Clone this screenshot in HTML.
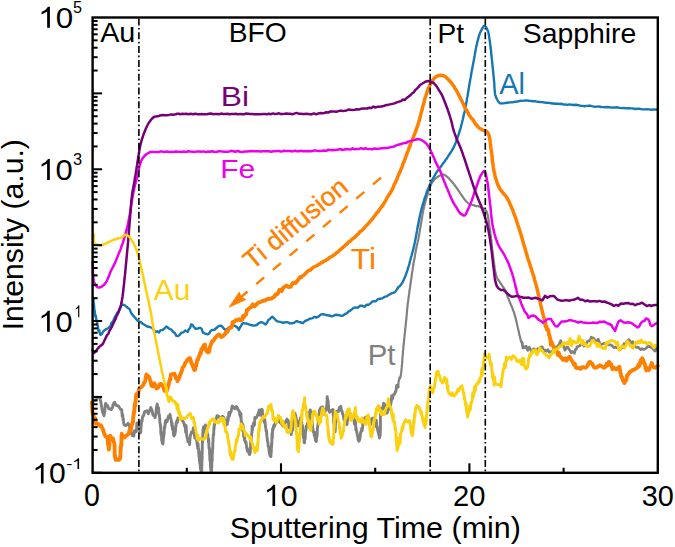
<!DOCTYPE html>
<html><head><meta charset="utf-8"><style>
html,body{margin:0;padding:0;background:#fff;}
body{width:675px;height:547px;overflow:hidden;position:relative;}
svg{position:absolute;left:0;top:0;}
</style></head><body>
<svg width="675" height="547" viewBox="0 0 675 547" font-family='"Liberation Sans", sans-serif'>
<polyline points="92.3,402.6 93.6,400.8 95.0,400.0 96.1,399.9 97.3,397.3 98.4,397.4 99.2,397.4 99.8,397.4 100.4,400.5 101.0,402.6 101.4,406.2 101.7,406.7 102.1,409.9 102.4,410.3 102.7,412.5 103.0,413.6 103.3,411.0 103.6,414.7 104.0,415.8 104.4,413.5 104.8,411.5 105.2,405.0 105.7,403.3 106.2,406.0 107.4,405.3 108.8,408.7 111.4,409.5 112.1,407.6 112.6,407.5 113.0,404.8 113.5,404.3 114.0,402.6 114.8,402.4 115.8,405.2 118.4,406.0 119.4,407.5 120.2,408.9 121.0,409.5 121.7,409.7 122.2,416.2 122.7,414.7 122.9,417.3 123.1,420.3 123.3,418.6 123.4,420.2 123.6,422.6 124.0,424.3 124.5,425.2 126.2,425.6 128.0,423.4 128.6,424.6 129.0,424.5 129.4,425.2 129.7,427.9 130.0,433.1 130.5,432.0 131.3,432.0 132.2,435.5 133.1,435.6 133.8,435.9 134.5,430.7 135.2,432.1 135.8,430.4 136.4,431.5 136.9,423.0 137.5,424.6 138.0,423.7 138.4,423.4 138.8,422.4 139.1,426.7 139.3,427.6 139.6,426.9 139.8,433.0 140.1,432.0 140.3,432.9 140.6,432.4 140.8,431.8 141.0,427.7 141.3,425.3 141.5,420.6 141.8,421.7 142.1,421.2 142.5,417.2 142.9,416.1 143.6,415.6 144.5,411.8 145.7,411.1 147.0,410.8 148.3,413.7 149.5,410.8 150.8,407.6 152.0,410.4 153.1,415.4 154.2,415.6 155.0,417.6 155.8,414.1 156.5,407.0 157.2,404.0 157.8,408.4 158.1,409.3 158.3,407.7 158.6,407.8 158.8,413.1 159.1,414.8 159.3,414.5 159.5,416.4 159.7,418.7 159.9,423.0 160.1,423.1 160.3,425.1 160.5,427.3 160.7,425.2 160.8,433.0 161.0,434.3 161.2,435.4 161.4,432.1 161.6,436.3 161.7,440.6 161.9,436.4 162.1,440.5 162.3,443.5 162.5,441.6 162.7,438.8 162.9,444.0 163.2,440.9 163.3,438.2 163.5,437.6 163.7,436.6 163.9,433.7 164.1,433.8 164.3,428.2 164.5,426.8 164.8,427.8 165.1,424.1 165.4,420.8 165.7,423.2 166.1,420.3 167.2,421.4 168.4,416.2 169.6,416.7 170.1,414.3 170.5,417.7 170.9,419.0 171.3,420.4 171.7,425.6 172.1,422.7 172.4,429.3 172.8,426.2 173.1,429.0 173.4,433.4 173.8,435.7 174.1,435.9 174.4,434.5 174.7,434.9 175.0,433.6 175.2,432.3 175.4,431.5 175.6,428.1 175.8,427.0 176.0,425.6 176.3,422.5 176.6,422.3 177.0,420.5 177.4,422.4 177.9,417.9 178.9,418.6 180.2,417.8 181.5,419.0 182.7,421.2 183.8,422.7 184.4,425.7 184.9,424.5 185.3,427.7 185.7,432.4 186.1,425.5 186.4,430.4 186.7,435.1 187.0,437.2 187.3,438.6 187.6,438.6 187.9,441.9 188.2,441.9 188.6,441.6 189.1,440.1 189.6,444.6 190.0,438.6 190.5,434.8 191.0,433.8 191.5,432.2 192.1,432.1 192.7,432.3 193.4,427.8 194.2,433.5 194.9,438.1 195.6,435.6 196.3,439.6 196.9,441.6 197.2,444.6 197.5,445.8 197.8,448.5 198.1,443.8 198.3,448.2 198.6,450.1 198.8,453.9 199.0,456.7 199.2,451.1 199.4,460.6 199.6,457.3 199.8,463.4 200.0,460.7 200.2,465.5 200.4,468.9 200.5,467.4 200.7,469.1 200.9,471.0 201.0,470.1 201.2,470.0 201.3,469.7 201.4,472.5 201.6,470.9 201.6,467.3 201.7,472.3 201.8,463.3 201.9,466.0 201.9,462.0 202.0,461.1 202.0,460.4 202.1,457.6 202.1,456.4 202.2,450.0 202.2,447.9 202.3,450.1 202.3,444.8 202.4,442.6 202.5,439.6 202.5,443.1 202.6,440.1 202.7,439.7 202.8,433.2 202.9,433.5 203.0,429.7 203.1,432.2 203.3,432.8 203.4,426.9 203.6,431.1 203.8,429.6 204.0,427.4 204.6,427.4 205.4,424.9 206.2,433.3 206.9,432.2 207.6,434.5 207.8,434.3 208.1,437.4 208.3,438.7 208.5,442.4 208.7,438.9 208.9,444.9 209.0,447.4 209.2,449.2 209.3,447.8 209.5,448.6 209.6,454.1 209.7,454.2 209.8,456.2 209.9,460.6 210.0,459.1 210.2,456.7 210.3,462.2 210.4,460.7 210.5,467.4 210.6,467.6 210.7,466.8 210.8,468.8 210.9,471.2 211.0,470.0 211.1,470.0 211.2,472.5 211.3,469.4 211.4,471.0 211.5,471.1 211.6,470.4 211.7,464.7 211.8,466.5 211.9,459.6 212.0,459.6 212.1,456.2 212.2,460.5 212.2,454.1 212.3,454.7 212.4,452.5 212.5,450.9 212.6,447.9 212.7,447.6 212.8,448.9 212.8,443.5 212.9,442.8 213.0,442.0 213.1,438.1 213.3,434.5 213.4,434.6 213.5,434.5 213.7,434.9 213.8,427.8 213.9,428.2 214.0,429.9 214.1,427.9 214.3,424.9 214.5,425.2 214.9,422.7 215.3,418.9 215.8,420.3 217.1,415.7 218.7,416.3 220.3,418.6 221.8,416.7 222.7,416.4 223.6,417.3 224.4,419.6 225.1,420.0 225.8,424.2 226.5,425.0 227.0,422.2 227.4,424.2 227.8,417.3 228.1,420.8 228.5,416.9 228.9,412.4 229.4,416.0 230.1,413.2 231.1,411.3 232.3,405.9 233.6,407.3 234.9,408.6 236.2,406.4 237.2,407.3 237.8,409.3 238.4,410.0 238.9,410.9 239.4,411.5 239.8,415.1 240.2,415.4 240.5,416.8 240.9,413.5 241.2,421.2 241.5,423.8 241.9,422.7 242.2,423.5 242.5,424.6 242.8,430.9 243.1,425.0 243.4,431.0 243.6,436.4 243.9,431.2 244.1,435.9 244.4,439.8 244.6,437.3 244.9,440.0 245.2,442.1 245.5,441.6 245.9,441.6 246.4,445.2 246.8,447.9 247.3,450.9 247.7,450.9 248.2,451.9 248.6,451.2 249.0,453.5 249.2,452.6 249.5,454.6 249.7,452.2 249.9,449.2 250.1,447.9 250.2,453.5 250.4,448.8 250.6,446.0 250.8,437.7 250.9,442.2 251.1,439.9 251.3,440.4 251.5,436.0 251.7,433.2 251.9,432.6 252.1,426.1 252.3,430.7 252.6,427.4 253.0,426.4 253.5,422.9 253.9,425.5 254.4,425.2 254.9,417.5 255.5,417.8 256.1,417.9 256.8,417.0 257.6,415.2 258.5,412.5 259.3,410.0 260.2,415.3 260.9,410.8 261.4,413.1 261.8,409.3 262.3,409.9 262.7,417.2 263.1,417.2 263.5,420.5 263.8,420.2 264.2,418.6 264.5,422.7 264.9,419.7 265.2,424.3 265.6,427.4 265.9,428.6 266.1,431.2 266.4,430.3 266.7,433.2 266.9,436.2 267.2,437.9 267.4,440.3 267.7,441.4 267.9,442.2 268.2,446.3 268.4,446.6 268.6,446.5 268.9,448.5 269.1,451.2 269.3,452.3 269.6,454.0 269.8,454.6 270.0,455.6 270.2,455.4 270.4,455.8 270.6,453.1 270.7,456.1 270.9,456.6 271.0,454.5 271.2,452.1 271.3,452.1 271.4,447.8 271.5,444.4 271.6,446.6 271.7,442.8 271.8,444.3 271.9,438.8 272.0,433.8 272.1,435.0 272.3,438.4 272.5,432.7 272.6,428.9 272.8,428.5 273.1,429.6 273.3,428.2 273.6,426.3 273.9,425.0 274.6,426.3 275.4,423.0 276.2,420.1 277.1,420.1 277.9,421.5 278.7,417.9 279.4,420.6 280.1,422.4 280.8,420.3 281.4,423.9 282.2,425.0 283.1,425.9 284.1,422.3 285.1,423.3 286.1,420.8 287.0,419.1 287.7,421.5 288.3,420.5 288.9,427.7 289.5,427.1 290.1,426.1 290.7,428.4 291.2,434.6 291.7,429.8 292.1,428.8 292.4,430.3 292.7,429.1 293.0,425.5 293.2,421.2 293.5,421.9 293.7,420.2 294.0,419.8 294.2,417.4 294.5,414.6 294.7,415.3 295.0,413.3 295.3,414.8 295.6,415.3 295.9,416.6 296.3,417.9 296.6,421.9 296.9,420.3 297.3,422.9 297.7,425.3 298.1,425.8 298.8,422.2 299.7,422.6 300.5,417.8 301.2,421.1 301.5,420.1 301.8,423.5 302.1,424.8 302.4,425.2 302.6,426.7 302.8,426.4 303.0,435.0 303.2,434.5 303.4,437.7 303.5,435.6 303.7,438.6 303.9,436.6 304.1,442.6 304.3,441.3 304.5,442.9 304.8,436.5 305.0,439.1 305.2,439.0 305.4,432.6 305.7,430.6 305.9,430.3 306.1,429.3 306.4,426.0 306.7,427.3 307.0,425.9 307.3,424.6 307.7,423.5 308.1,421.8 308.5,421.5 308.9,419.1 309.2,412.5 309.6,412.8 310.0,410.6 310.3,409.9 310.6,411.8 310.8,411.9 311.1,412.7 311.3,414.7 311.4,411.9 311.6,414.2 311.8,418.4 311.9,419.9 312.1,421.5 312.3,423.9 312.5,424.3 312.7,428.9 312.9,428.9 313.2,431.2 313.5,432.1 313.9,432.8 314.3,435.6 314.6,432.2 315.0,437.1 315.4,440.3 315.7,438.0 316.0,441.3 316.2,441.5 316.4,440.8 316.6,436.8 316.7,437.8 316.9,436.3 317.0,436.2 317.2,434.7 317.3,431.5 317.4,428.0 317.6,427.5 317.7,425.8 317.9,425.6 318.1,423.1 318.3,421.1 318.5,418.0 318.8,415.0 319.0,415.2 319.3,412.7 319.5,410.2 319.8,410.6 320.1,408.5 320.5,408.5 320.9,408.6 321.4,407.1 322.7,407.0 324.1,414.1 325.3,410.2 325.9,408.8 326.3,410.0 326.6,405.9 326.9,405.7 327.2,396.6 327.4,398.4 327.7,399.3 327.9,400.2 328.2,402.0 328.4,407.1 328.5,405.0 328.7,408.9 329.0,409.8 329.3,411.9 329.6,412.2 330.0,411.8 331.1,410.7 332.3,410.2 332.6,411.7 332.9,409.4 333.2,415.3 333.4,412.5 333.6,416.9 333.7,422.7 333.8,420.1 334.0,422.7 334.1,427.0 334.2,426.6 334.3,426.5 334.4,429.8 334.5,431.3 334.7,430.4 334.9,431.6 335.0,427.9 335.1,431.9 335.3,430.3 335.4,425.4 335.5,424.1 335.6,420.8 335.8,422.5 336.0,416.4 336.2,417.3 336.4,413.4 336.7,411.5 337.0,411.8 337.7,411.6 338.5,411.3 339.3,407.5 340.1,407.1 340.8,406.4 341.4,410.8 342.0,411.0 342.6,413.8 343.2,414.9 344.0,419.8 344.7,421.1 345.5,419.4 346.3,421.1 347.0,424.7 347.7,418.1 348.5,417.6 349.4,414.9 350.7,413.9 352.1,416.3 353.3,418.0 353.8,415.5 354.3,423.7 354.6,424.2 355.0,420.5 355.3,421.4 355.6,422.7 355.8,429.9 356.1,428.1 356.4,430.4 356.8,432.1 357.1,433.6 357.5,436.0 357.8,436.0 358.1,439.8 358.5,438.0 358.8,441.3 359.2,440.7 359.5,440.2 359.9,438.8 360.3,435.4 360.7,432.0 361.1,432.0 361.4,431.0 361.8,428.2 362.1,430.9 362.5,427.8 362.8,424.6 363.2,422.5 363.7,420.8 364.2,421.1 365.1,417.6 366.1,417.3 367.1,417.4 368.1,416.4 368.9,418.2 369.7,419.9 370.5,424.6 371.2,421.1 372.4,418.1 373.5,418.0 374.3,418.8 375.1,426.2 375.9,422.7 376.3,420.2 376.7,424.4 377.2,427.6 377.6,429.4 378.0,431.8 378.4,432.3 378.8,435.1 379.2,435.7 379.5,438.0 379.8,436.7 380.0,432.7 380.1,434.3 380.2,435.3 380.3,432.2 380.3,430.9 380.3,432.8 380.4,428.7 380.4,429.6 380.4,428.0 380.4,425.2 380.4,423.7 380.4,420.6 380.4,416.1 380.4,417.0 380.5,416.2 380.6,412.6 380.7,411.9 380.9,412.3 381.1,407.9 381.3,408.7 382.0,408.2 382.8,409.1 383.6,403.2 384.4,404.0 385.0,404.9 385.5,405.8 386.0,411.1 386.5,410.6 387.0,413.2 387.5,412.0 388.0,410.0 388.5,409.9 388.9,407.9 389.4,402.3 389.9,404.0 390.5,405.3 391.1,402.6 391.7,395.7 392.3,399.2 393.0,396.2 393.8,394.3 394.6,393.9 395.4,392.2 396.1,390.0 396.7,385.4 397.2,386.5 397.7,385.2 398.1,387.0" fill="none" stroke="#808080" stroke-width="2.9" stroke-linejoin="round" stroke-linecap="round"/>
<polyline points="397.7,385.2 398.1,387.0 398.6,381.6 399.1,379.4 399.6,377.3 400.1,378.3 400.5,376.7 400.7,375.7 400.9,374.8 401.1,373.4 401.2,372.1 401.4,371.1 401.5,369.3 401.7,367.9 401.8,366.6 401.9,365.2 402.1,363.4 402.2,361.8 402.3,360.5 402.4,358.9 402.5,357.2 402.7,355.8 402.8,354.2 402.9,352.8 403.0,351.2 403.2,349.7 403.3,348.3 403.4,346.8 403.6,345.6 403.7,344.2 403.9,342.5 404.0,341.2 404.2,339.5 404.3,338.1 404.5,336.7 404.6,335.4 404.8,333.6 405.0,332.2 405.1,330.8 405.2,329.1 405.4,327.9 405.5,326.5 405.7,325.2 405.8,323.7 405.9,322.2 406.1,321.3 406.2,320.0 406.4,318.4 406.5,316.6 406.7,315.3 406.8,313.6 406.9,312.1 407.0,310.8 407.2,309.0 407.3,307.7 407.5,306.3 407.6,305.0 407.8,303.3 408.0,301.8 408.2,300.5 408.4,298.9 408.6,297.5 408.8,296.3 409.0,294.4 409.2,293.4 409.4,291.4 409.6,290.0 409.8,288.6 410.1,287.2 410.3,285.4 410.5,284.1 410.7,282.3 410.9,281.3 411.1,279.8 411.3,278.4 411.5,277.2 411.7,275.4 411.9,273.9 412.1,272.6 412.4,271.0 412.6,269.7 412.8,267.8 413.1,266.5 413.3,265.0 413.5,263.0 413.8,262.1 414.1,260.3 414.4,258.9 414.7,257.4 415.0,255.3 415.3,253.6 415.6,251.9 415.9,250.3 416.2,248.8 416.5,247.6 416.7,246.1 417.0,245.0 417.2,243.9 417.4,243.0 417.8,241.6 418.2,239.9 418.4,239.0 418.6,237.8 418.8,236.6 419.1,235.1 419.3,233.4 419.6,232.2 419.9,230.4 420.1,228.6 420.4,227.2 420.7,225.5 420.9,223.6 421.2,222.4 421.5,221.1 421.7,219.5 422.0,218.1 422.2,216.5 422.5,214.9 422.7,213.3 423.0,212.2 423.3,210.6 423.6,209.1 423.9,207.8 424.2,206.3 424.6,204.9 424.9,203.5 425.3,201.9 425.7,200.5 426.1,198.8 426.5,197.6 426.9,196.4 427.3,195.1 427.8,193.5 428.2,192.3 428.7,190.7 429.2,189.4 429.7,187.6 430.3,186.2 430.9,185.0 431.5,183.4 432.2,182.2 433.1,181.2 434.1,179.8 435.1,178.9 436.2,178.0 437.3,177.2 438.5,176.3 439.8,175.6 441.1,175.1 442.3,174.5 443.7,174.6 445.0,175.2 446.3,176.2 447.3,177.0 448.3,177.7 449.3,178.9 450.3,180.0 451.3,181.0 452.3,182.2 453.2,183.4 454.1,184.2 454.9,185.7 455.8,186.5 456.6,187.9 457.5,189.1 458.3,190.3 459.2,191.5 460.1,193.0 460.9,194.2 461.8,195.4 462.6,196.7 463.5,197.8 464.6,199.5 465.7,200.7 466.8,202.0 468.0,203.0 469.3,204.0 470.7,204.3 472.2,204.8 473.5,205.0 475.0,205.9 476.5,206.2 478.1,206.0 479.6,206.7 480.9,207.2 482.4,207.9 483.8,208.7 485.0,209.5 486.1,210.7 486.6,211.6 487.1,212.5 487.4,213.8 487.8,215.3 488.0,216.3 488.3,217.8 488.5,219.4 488.7,220.7 488.9,222.6 489.1,224.1 489.4,225.9 489.6,227.4 489.8,228.5 490.0,229.8 490.2,231.2 490.3,232.6 490.5,233.8 490.7,235.3 490.9,236.9 491.0,238.4 491.2,239.9 491.3,241.0 491.5,242.5 491.7,243.7 491.8,245.8 492.0,246.8 492.1,248.4 492.3,249.9 492.5,251.0 492.6,252.6 492.8,253.9 493.0,255.2 493.2,256.4 493.4,258.3 493.6,260.0 493.8,261.0 494.0,263.0 494.2,264.4 494.4,266.0 494.6,267.4 494.8,269.0 495.1,270.2 495.3,271.7 495.6,272.7 495.9,274.1 496.2,275.0 496.5,276.1 497.1,277.6 497.8,279.2 498.5,280.1 499.2,281.2 500.0,282.4 500.7,283.4 501.5,284.5 502.3,285.8 503.2,287.1 503.9,288.2 504.7,289.5 505.3,290.7 505.8,291.9 506.4,293.4 506.9,294.4 507.4,295.8 507.9,297.4 508.5,298.6 509.0,299.9 509.5,301.3 510.0,302.5 510.6,303.9 511.1,305.3 511.7,306.6 512.2,307.6 512.7,309.2 513.2,310.5 513.7,311.7 514.2,313.2 514.6,314.7 515.0,315.9 515.4,317.3 515.8,318.9 516.1,320.4 516.4,321.5 516.8,323.2 517.1,324.4 517.5,326.3 517.8,327.4 518.1,328.8 518.5,330.5 518.8,331.8 519.1,333.5 519.4,335.2 519.8,336.0 520.1,337.2 520.5,339.9 520.9,340.3 521.3,341.6 522.1,342.5" fill="none" stroke="#808080" stroke-width="2.2" stroke-linejoin="round" stroke-linecap="round"/>
<polyline points="521.3,341.6 522.1,342.5 522.9,348.0 523.8,346.5 524.9,347.6 526.2,346.2 527.7,350.4 529.2,347.2 530.8,349.9 532.2,351.5 533.6,348.8 535.0,349.4 536.5,350.6 537.9,348.7 539.3,349.0 540.7,347.1 542.2,346.9 543.6,351.3 545.0,349.9 546.4,351.3 547.9,349.6 549.3,352.3 550.7,352.0 552.1,351.1 553.2,351.4 554.2,346.2 555.2,347.7 556.2,348.0 557.2,346.5 558.2,345.7 559.3,344.0 560.7,340.7 562.1,345.0 563.5,346.3 565.0,350.2 566.4,347.6 567.6,347.1 568.9,349.1 570.1,350.6 571.3,352.8 572.4,351.5 573.5,352.3 574.5,353.3 575.4,349.4 576.2,349.4 577.1,346.8 578.2,346.4 579.5,346.0 580.9,344.4 582.4,342.8 583.9,346.1 585.3,344.0 586.5,343.5 587.7,341.1 588.9,340.9 590.0,340.8 591.2,337.1 592.4,338.1 593.6,338.2 594.7,339.8 595.9,340.8 597.1,340.6 598.3,339.2 599.5,342.8 600.9,344.9 602.4,343.9 603.8,343.5 605.3,343.3 606.7,344.0 608.1,345.0 609.6,344.8 611.0,344.8 612.4,346.0 613.8,347.6 615.2,347.2 616.7,347.7 618.1,347.3 619.6,349.9 620.9,348.7 622.0,346.1 623.0,347.6 624.0,343.7 625.0,343.9 626.0,343.9 627.0,341.2 628.0,340.4 629.1,339.7 630.3,341.6 631.5,343.0 632.6,341.8 633.9,344.6 635.1,346.4 636.5,347.3 637.9,347.1 639.3,348.4 640.8,349.6 642.2,348.7 643.6,349.5 645.1,349.0 646.5,347.9 648.0,346.1 649.3,346.4 650.6,347.0 651.9,347.8 653.1,349.1 654.2,350.4 655.2,351.1 656.6,347.9 657.8,349.0" fill="none" stroke="#808080" stroke-width="2.7" stroke-linejoin="round" stroke-linecap="round"/>
<polyline points="93.3,297.9 93.5,299.8 93.7,302.2 93.9,303.7 94.1,306.5 94.3,309.0 94.6,310.6 94.9,312.7 95.3,316.6 95.8,315.6 96.3,319.6 96.8,320.7 97.4,324.2 98.0,327.4 98.6,331.3 99.3,330.3 100.0,334.1 100.7,334.9 101.8,334.0 103.1,331.6 104.7,330.1 106.4,329.1 108.5,328.0 110.5,325.8 111.6,322.5 112.6,322.5 113.6,319.9 114.6,317.6 115.9,315.3 117.3,312.8 118.7,311.0 120.0,308.9 121.3,305.5 122.8,304.5 124.8,305.4 126.9,307.0 128.3,308.3 129.7,309.2 131.0,312.7 132.3,314.4 133.6,316.2 135.0,317.6 136.9,320.1 138.9,321.3 140.7,322.0 142.7,323.8 144.8,325.0 147.2,326.5 149.7,327.0 152.2,328.0 153.9,330.1 155.6,332.1 157.2,331.3 158.9,332.4 160.7,330.1 162.6,330.0 164.5,328.5 166.3,326.5 168.0,327.7 169.7,329.0 171.4,329.7 173.0,331.7 174.8,333.0 176.4,335.9 178.1,336.1 179.8,334.8 181.5,332.6 183.3,332.4 185.4,330.5 187.6,331.8 189.3,328.7 190.3,327.5 191.1,324.4 192.4,324.9 193.9,327.0 195.6,328.9 197.8,328.5 200.0,327.8 201.5,328.7 202.9,332.4 204.4,333.3 207.8,334.4 209.2,333.3 210.7,330.8 212.2,330.0 214.4,329.7 216.7,327.8 218.9,325.9 221.1,325.6 222.6,327.0 224.1,328.9 225.6,330.0 227.8,328.4 230.0,326.7 232.2,326.0 234.4,325.6 236.0,326.5 237.5,327.7 238.9,330.0 240.0,327.4 241.0,326.0 242.0,324.1 243.3,323.3 246.0,323.4 248.9,324.4 251.6,325.3 254.4,325.6 256.7,325.0 258.9,323.1 261.1,322.2 263.4,322.9 265.6,324.4 266.9,322.9 268.3,320.0 269.6,319.2 270.9,317.8 272.2,316.7 273.7,318.0 275.2,319.5 276.7,321.1 278.8,321.7 281.1,322.2 283.3,322.9 285.6,322.2 287.8,322.2 290.1,323.4 292.2,323.3 294.5,322.6 296.7,321.1 298.7,321.9 301.0,322.5 302.9,323.1 305.0,321.0 307.3,320.2 309.6,318.8 311.9,318.4 314.1,316.9 316.3,317.5 318.5,316.7 320.7,314.7 322.9,314.2 325.1,314.6 327.2,315.3 329.4,315.5 331.6,316.3 333.8,315.6 336.0,314.7 338.2,315.0 340.5,315.6 342.6,315.8 344.8,314.2 346.7,313.4 348.5,311.6 350.3,310.6 352.1,309.1 353.9,307.8 355.8,307.4 357.9,307.7 360.1,305.7 362.3,305.8 364.5,306.9 366.7,304.7 368.6,304.8 370.4,303.3 372.2,301.6 374.0,301.3 375.9,301.2 377.7,299.2 379.9,298.8 382.1,298.4 384.4,296.9 386.5,296.4 388.6,295.1 390.8,293.7 393.0,292.9 395.0,292.1 396.8,289.6 398.4,287.0 399.8,286.3 401.1,284.6 402.3,282.7 403.3,280.9 404.1,279.1 404.9,277.3 405.6,275.5 406.4,273.2 407.0,271.5 407.6,269.6 408.2,267.4 408.8,265.8 409.4,263.6 409.9,261.5 410.5,259.5 411.0,257.4 411.6,255.5 412.1,253.4 412.7,251.4 413.2,249.4 413.7,247.2 414.2,245.2 414.7,243.0 415.1,240.9 415.5,239.0 415.9,236.7 416.3,234.5 416.7,232.5 417.1,230.4 417.4,228.3 417.8,226.3 418.2,224.4 418.6,222.3 419.0,220.1 419.4,218.2 419.8,216.4 420.3,214.4 420.7,212.3 421.2,210.4 421.7,208.4 422.3,206.4 422.8,204.4 423.4,202.6 424.0,200.5 424.6,198.4 425.2,196.8 426.0,194.6 426.7,192.3 427.5,190.3 428.4,188.1 429.2,186.2 430.1,184.1 431.1,182.3 432.1,180.1 433.2,178.2 434.4,176.0 435.6,173.9 436.9,171.8 438.3,170.0 439.5,168.2 440.7,166.8 441.9,165.2 443.1,163.4 444.3,162.0 445.5,160.1 446.8,158.5 448.0,156.5 449.2,154.7 450.3,153.0 451.4,151.3 452.4,149.6 453.4,148.0 454.3,146.0 455.1,144.2 455.9,142.1 456.6,140.0 457.3,138.0 458.0,136.2 458.7,134.2 459.3,132.1 460.0,130.0 460.6,128.1 461.1,126.1 461.7,124.0 462.2,121.7 462.8,119.5 463.2,117.5 463.7,115.6 464.1,113.5 464.6,111.7 465.0,109.5 465.4,107.2 465.9,105.2 466.3,102.9 466.7,101.0 467.0,98.6 467.4,96.8 467.8,94.6 468.1,92.5 468.5,90.0 468.8,88.0 469.2,85.8 469.5,83.6 469.9,81.5 470.3,79.4 470.7,77.3 471.1,74.9 471.4,72.9 471.8,70.7 472.2,68.7 472.6,66.6 473.0,64.6 473.4,62.5 473.8,60.4 474.2,58.2 474.6,55.9 474.9,53.8 475.3,51.7 475.7,49.6 476.1,47.4 476.6,45.4 477.0,43.5 477.5,41.4 478.1,39.1 478.6,37.1 479.2,35.2 479.9,33.3 480.6,31.6 481.9,29.1 483.3,26.6 484.6,25.7 486.3,27.4 487.7,30.4 488.3,32.2 488.7,34.0 489.1,36.4 489.4,38.6 489.8,41.2 490.1,43.5 490.4,45.4 490.6,47.5 490.9,49.6 491.1,51.7 491.3,53.9 491.5,56.0 491.8,58.3 492.0,60.4 492.2,62.5 492.4,64.6 492.6,66.5 492.9,69.0 493.1,71.1 493.3,73.1 493.5,75.4 493.7,77.5 493.9,79.6 494.1,81.5 494.3,83.6 494.4,86.1 494.5,88.1 494.7,90.5 494.9,92.2 495.1,94.2 495.5,95.8 496.4,98.1 497.4,100.0 498.4,101.7 500.0,103.3 503.1,103.4 506.7,102.7 510.3,102.4 512.4,102.3 514.8,101.8 517.4,101.5 520.0,100.8 522.1,100.9 524.3,100.6 526.5,100.4 528.8,100.8 531.1,101.0 533.3,101.3 535.5,101.3 537.8,101.8 540.0,102.0 542.2,102.1 544.5,102.5 546.7,102.7 548.9,102.9 551.0,103.2 553.1,103.5 555.2,103.8 557.5,103.6 560.0,104.0 561.8,103.8 563.6,104.6 565.5,104.5 567.5,104.9 569.6,104.3 571.7,104.8 573.9,105.0 576.0,104.8 578.2,105.2 580.4,105.7 582.5,105.9 584.6,106.2 586.7,105.9 588.7,105.8 590.8,105.8 592.8,106.4 594.9,106.7 596.9,106.6 599.0,106.4 601.0,107.0 603.1,107.1 605.1,107.2 607.2,107.0 609.2,107.3 611.3,107.6 613.3,107.5 615.4,107.5 617.5,107.3 619.6,107.9 621.7,108.1 623.8,108.0 625.9,108.4 628.0,108.1 630.1,108.3 632.2,108.4 634.2,108.7 636.2,109.0 638.1,108.6 640.0,108.8 642.4,109.4 644.7,109.4 646.9,109.3 649.1,109.4 651.3,109.8 653.4,109.4 655.6,109.5 657.8,109.6" fill="none" stroke="#1677b3" stroke-width="2.4" stroke-linejoin="round" stroke-linecap="round"/>
<polyline points="91.8,402.6 92.0,404.3 92.1,404.4 92.3,408.7 92.4,411.8 92.6,412.3 92.9,413.8 93.2,414.7 93.7,416.3 94.4,418.9 95.1,418.1 95.8,423.7 96.7,423.4 98.4,424.1 100.2,426.0 101.1,425.5 102.0,427.6 102.8,429.1 103.6,432.0 104.8,435.1 106.1,437.0 107.1,437.3 107.5,436.8 107.9,442.6 108.1,444.8 108.3,444.8 108.4,445.2 108.6,447.8 108.8,449.5 109.0,447.8 109.2,447.7 109.4,444.2 109.6,439.0 109.8,440.2 110.2,435.6 110.6,437.3 111.7,439.5 112.9,438.2 114.0,442.6 114.3,442.9 114.5,444.4 114.6,446.9 114.7,452.0 114.7,453.5 114.7,455.2 114.8,456.7 115.0,455.3 115.3,458.3 115.8,459.9 117.5,459.6 119.2,459.9 119.8,457.5 120.1,458.5 120.4,454.8 120.5,452.9 120.6,450.2 120.7,446.5 120.8,448.7 121.0,446.0 121.2,446.2 121.4,442.2 121.5,438.3 121.7,433.7 122.1,436.8 122.7,435.6 124.4,437.5 126.2,435.6 127.5,434.8 128.6,433.9 129.6,430.4 130.4,431.2 131.1,429.0 131.7,424.7 132.3,423.4 132.6,423.6 133.0,421.6 133.3,416.1 133.5,416.0 133.8,412.5 134.0,412.7 134.3,411.9 134.5,407.5 134.7,404.2 134.9,406.0 135.2,405.9 135.3,402.5 135.5,402.4 135.9,398.1 136.3,394.2 136.8,396.1 137.4,395.9 138.1,394.0 138.9,389.3 140.3,387.5 141.9,386.7 143.3,384.8 144.0,383.1 144.7,382.3 145.3,380.2 145.8,377.4 146.4,374.5 147.0,375.2 149.3,377.4 150.0,379.8 150.5,380.8 151.1,384.3 151.6,385.8 152.2,386.3 153.3,386.4 154.4,383.3 155.2,385.8 155.9,386.7 156.7,388.5 157.6,387.8 158.5,387.2 159.6,384.1 161.1,383.9 162.6,385.6 163.7,387.9 164.6,390.8 165.6,390.7 166.6,391.1 167.6,388.4 168.5,385.6 169.0,382.8 169.3,381.1 169.7,380.7 170.0,378.9 170.4,379.3 170.9,374.5 171.5,374.4 174.4,373.7 175.3,376.3 176.0,378.4 176.7,378.4 177.4,381.1 178.1,379.6 178.9,378.8 179.7,375.9 180.4,374.4 181.1,372.4 181.8,371.1 182.5,367.9 183.3,367.0 184.3,365.6 185.3,362.8 186.3,361.9 187.3,359.7 188.3,359.3 189.3,358.1 190.1,358.2 190.8,360.7 191.5,363.9 192.2,364.1 193.0,366.5 193.7,368.8 194.4,370.0 195.0,369.9 195.5,366.8 196.1,365.9 196.7,362.6 197.4,359.5 198.1,359.6 198.8,356.6 199.6,355.2 200.2,352.8 200.8,353.5 201.5,348.9 202.1,349.7 202.8,347.0 203.5,346.7 204.1,344.8 204.9,344.6 205.6,348.6 206.4,351.1 207.1,351.3 207.8,352.2 208.6,351.2 209.2,351.8 209.9,347.1 210.7,344.8 211.5,342.8 212.4,341.1 213.4,340.7 214.4,338.9 215.8,337.4 217.3,335.5 218.9,334.4 221.2,336.9 223.3,335.9 224.4,334.5 225.3,333.6 226.3,331.5 227.5,331.8 228.8,328.2 230.0,328.0 231.0,327.6 231.8,326.7 232.8,321.9 234.0,322.0 235.6,320.3 237.4,320.2 239.2,319.2 240.8,320.5 242.0,319.9 243.1,316.1 244.0,317.0 244.9,315.0 246.0,314.6 246.9,309.8 248.0,309.8 249.4,308.1 251.1,307.2 252.7,304.4 254.5,306.3 256.3,304.6 258.0,302.8 259.8,302.2 261.5,301.5 263.2,300.7 264.9,300.5 266.7,299.4 268.4,298.8 270.2,298.9 271.9,298.4 273.2,297.1 274.4,296.8 275.6,294.4 276.9,294.4 278.1,293.2 279.4,290.0 280.6,289.9 281.8,290.9 283.1,287.9 284.3,287.0 286.5,285.5 288.5,287.0 290.0,286.8 290.8,286.6 291.8,284.6 293.0,283.0 294.2,282.7 295.6,283.0 297.0,281.3 298.4,279.5 299.7,277.5 301.0,277.3" fill="none" stroke="#ff8000" stroke-width="3.9" stroke-linejoin="round" stroke-linecap="round"/>
<polyline points="299.7,277.5 301.0,277.3 302.4,275.9 303.7,275.4 305.1,273.9 306.4,272.5 307.8,271.1 309.1,270.2 310.5,270.1 311.9,268.5 313.4,267.2 315.0,266.5 316.6,265.7 318.2,264.7 319.8,263.8 321.3,262.6 322.9,262.0 324.3,260.9 325.6,260.7 327.0,259.3 328.4,258.8 329.8,257.3 331.1,256.8 332.5,256.0 333.8,255.0 335.2,254.2 336.6,252.6 338.0,251.9 339.3,250.6 340.7,249.2 342.1,248.3 343.4,246.8 344.8,245.8 346.0,244.6 347.3,243.7 348.5,242.0 349.7,241.6 350.9,240.3 352.2,239.1 353.4,238.3 354.6,237.5 355.8,236.2 357.0,234.9 358.3,234.1 359.5,232.3 360.8,231.0 362.0,230.5 363.2,229.0 364.4,227.9 365.6,226.2 366.7,225.2 368.0,224.0 369.2,222.5 370.3,221.3 371.5,219.8 372.6,218.7 373.8,216.9 374.9,215.6 376.0,214.0 377.1,212.5 378.2,211.8 379.2,210.0 380.3,208.5 381.3,207.1 382.3,205.9 383.2,204.7 384.1,202.9 385.0,201.7 385.8,200.2 386.5,198.8 387.3,197.3 388.0,196.3 389.2,194.5 390.3,192.8 391.4,191.0 392.1,189.7 392.8,188.3 393.5,186.8 394.2,184.6 394.9,183.4 395.7,181.7 396.4,180.2 397.1,178.9 397.7,176.7 398.4,175.3 399.1,173.8 399.8,172.1 400.5,170.7 401.2,168.7 401.8,167.4 402.5,165.5 403.1,163.5 403.8,161.8 404.4,160.9 405.0,159.1 405.6,157.4 406.2,155.7 406.8,154.2 407.4,152.2 408.0,151.0 408.6,149.6 409.2,147.6 409.8,146.4 410.4,144.7 411.0,142.6 411.6,141.2 412.2,140.0 412.8,138.7 413.4,136.9 414.1,135.3 414.7,133.9 415.3,132.2 415.9,130.5 416.5,129.0 417.0,127.6 417.4,126.1 417.9,125.0 418.3,123.1 418.8,122.0 419.2,120.4 419.7,118.7 420.1,117.0 420.6,115.1 421.0,113.5 421.4,112.0 421.9,110.3 422.3,108.5 422.7,107.0 423.1,105.2 423.6,104.2 424.0,102.3 424.4,100.4 424.9,98.5 425.3,97.4 425.8,96.0 426.4,94.1 427.0,92.1 427.6,90.3 428.3,88.4 428.9,87.4 429.6,85.7 430.3,84.3 431.1,83.4 431.9,81.2 432.8,79.8 433.8,79.0 434.8,77.6 436.6,76.4 438.5,75.6 440.5,75.2 442.5,75.4 444.4,76.1 446.3,77.4 447.5,78.8 448.7,79.9 449.9,81.4 451.0,82.3 452.1,83.9 453.1,85.3 454.1,86.6 455.1,88.7 456.1,89.7 457.1,91.9 458.0,93.4 458.8,95.1 459.5,96.6 460.2,97.5 461.0,99.6 461.7,100.6 462.4,102.2 463.1,103.5 463.9,105.3 464.7,107.2 465.6,108.9 466.4,109.8 467.2,111.3 468.1,113.0 469.0,115.2 469.9,116.0 470.9,117.7 472.0,118.8 473.1,120.0 474.2,121.7 475.2,123.6 476.2,124.9 477.0,125.5 478.1,126.8 479.1,128.0 480.9,129.0 482.9,130.2 484.6,130.8 486.3,131.1 487.7,132.6 488.6,134.3 489.1,135.6 489.5,138.0 489.8,139.6 490.0,140.3 490.2,141.9 490.4,143.9 490.6,145.3 490.8,147.5 491.1,149.1 491.3,150.9 491.5,152.0 491.7,154.0 491.9,155.6 492.1,156.5 492.2,159.2 492.4,160.5 492.6,162.3 492.9,163.4 493.1,165.5 493.3,167.3 493.6,169.3 493.9,170.3 494.1,172.0 494.5,173.3 494.8,175.2 495.3,176.9 495.8,178.7 496.3,179.9 496.8,181.8 497.4,183.6 498.0,185.3 498.6,186.5 499.3,187.7 500.0,189.1 501.0,190.4 502.2,191.9 503.4,193.3 504.7,194.8 505.9,196.2 507.0,197.8 507.8,199.6 508.5,200.6 509.2,201.8 509.9,204.0 510.6,205.4 511.3,206.8 511.9,208.3 512.6,209.6 513.2,211.5 513.9,213.5 514.5,215.2 515.0,216.3 515.6,217.8 516.2,219.8 516.7,221.4 517.3,223.1 517.8,224.8 518.4,226.6 518.9,227.7 519.4,229.8 519.9,230.9 520.4,232.9 520.9,234.3 521.4,236.0 521.9,237.7 522.4,239.5 522.8,240.9 523.3,242.8 523.7,244.3 524.2,245.7 524.6,247.1 525.1,248.7 525.5,250.3 526.0,252.0 526.5,253.6 527.0,255.3 527.5,257.7 528.0,258.7 528.5,260.3 529.0,261.5 529.5,263.2 530.0,264.8 530.5,266.5 531.0,268.0 531.5,269.4 532.0,271.7 532.6,272.8 533.1,274.8 533.6,275.6 534.1,277.7 534.5,279.4 535.0,281.0 535.4,282.6 535.8,284.2 536.2,285.6 536.6,287.1 537.0,288.1 537.3,290.0 537.7,291.2 538.1,293.5 538.5,295.0 538.9,296.6 539.2,298.1 539.6,299.6 540.0,301.3 540.4,303.2 540.7,304.9 541.1,306.5 541.5,308.2 541.9,309.9 542.3,311.6 542.7,313.2 543.1,314.9 543.6,316.6 544.1,318.3 544.5,320.0 545.0,321.6 545.5,325.5" fill="none" stroke="#ff8000" stroke-width="3.5" stroke-linejoin="round" stroke-linecap="round"/>
<polyline points="545.0,321.6 545.5,325.5 545.9,327.0 546.4,326.5 546.9,329.7 547.4,329.8 547.9,329.6 548.4,330.8 548.9,334.2 549.4,335.4 549.9,337.5 550.4,339.9 550.9,344.9 551.5,341.9 552.1,344.0 553.0,345.7 553.9,347.4 554.9,348.4 555.9,350.8 556.9,351.1 557.8,354.7 558.7,352.7 559.6,355.9 560.6,356.8 561.6,358.2 563.1,359.8 564.8,358.3 566.4,360.6 568.0,358.1 569.6,356.7 571.1,359.4 572.1,361.1 573.0,362.5 573.9,364.5 574.7,363.5 575.8,367.7 577.3,368.0 579.0,367.9 580.6,368.9 582.2,367.1 583.8,367.3 585.3,367.7 586.6,367.1 587.8,365.0 588.9,362.5 590.1,361.8 591.3,363.3 592.4,363.9 593.6,366.7 594.8,367.7 596.3,367.3 597.9,366.7 599.5,365.3 601.1,365.9 602.8,367.0 604.3,367.7 605.5,366.5 606.7,363.8 607.8,365.4 609.0,361.8 610.2,363.2 611.3,364.9 612.5,369.2 613.8,367.7 616.2,369.3 618.5,367.7 619.3,366.8 620.0,370.9 620.6,372.9 621.1,376.0 621.6,377.2 622.1,377.2 622.9,380.6 623.6,380.6 624.4,383.1 625.0,381.4 625.7,381.2 626.4,379.3 627.1,375.3 628.0,374.8 629.1,372.9 630.2,371.6 631.4,371.1 632.7,370.0 634.3,369.6 636.0,368.3 637.5,367.7 638.4,364.8 639.3,365.9 640.0,364.1 640.7,360.1 641.5,360.0 642.2,358.2 642.9,359.4 643.6,361.3 644.2,363.4 644.9,364.4 645.6,368.3 646.3,370.5 647.0,370.0 647.9,368.3 648.9,370.0 649.8,368.0 650.8,365.9 651.7,363.0 652.9,366.5 654.0,367.3 655.2,367.7 657.8,366.0" fill="none" stroke="#ff8000" stroke-width="3.9" stroke-linejoin="round" stroke-linecap="round"/>
<polyline points="92.6,262.0 92.7,264.0 92.8,266.2 92.9,268.4 92.9,271.0 93.0,273.2 93.1,275.6 93.3,276.8 93.5,280.1 93.8,281.7 94.2,282.5 95.7,285.5 97.6,287.3 99.6,287.6 101.7,286.6 103.9,285.0 105.8,282.5 106.8,280.9 107.7,278.9 108.5,277.0 109.4,274.8 110.3,272.3 111.3,270.2 112.3,268.2 113.4,266.1 114.4,264.1 115.4,262.0 116.4,259.4 117.2,257.4 118.1,255.1 119.0,252.9 120.0,250.8 120.9,248.3 121.6,246.0 122.3,244.3 123.0,242.4 123.6,240.1 124.3,238.0 125.0,235.4 125.7,233.2 126.2,231.1 126.7,229.1 127.2,227.3 127.7,225.0 128.1,223.6 128.5,221.1 128.9,219.0 129.3,217.2 129.7,215.0 130.0,213.1 130.3,211.1 130.6,209.1 130.9,207.0 131.2,204.9 131.5,202.8 131.9,200.7 132.2,198.7 132.6,196.7 133.0,194.6 133.4,192.6 133.8,190.6 134.2,188.6 134.6,186.7 135.0,185.0 135.6,182.7 136.2,180.7 136.8,178.7 137.4,176.6 137.8,174.5 138.2,172.2 138.6,170.0 139.1,167.8 139.6,165.7 140.3,163.6 141.0,161.6 141.8,159.7 142.8,158.0 144.4,156.0 146.3,154.3 148.3,153.0 150.3,152.1 152.5,151.9 155.0,152.0 156.7,151.9 158.5,152.1 160.4,151.5 162.3,151.6 164.4,152.0 166.7,151.5 169.0,151.9 170.7,151.9 172.4,152.0 174.2,151.8 176.0,151.5 177.8,151.8 179.7,151.7 181.7,151.9 183.8,151.5 185.9,152.1 188.0,151.2 190.3,151.6 192.6,151.7 195.0,151.9 197.4,151.4 200.0,151.6 201.5,151.8 203.1,151.4 204.8,151.8 206.5,152.1 208.3,151.4 210.1,151.7 212.0,151.2 214.0,151.8 216.0,151.9 218.0,151.5 220.1,151.1 222.2,151.6 224.4,151.8 226.6,151.7 228.8,151.7 231.0,150.8 233.3,151.2 235.5,151.8 237.8,151.0 240.1,151.7 242.4,151.9 244.7,151.5 247.0,151.6 249.3,151.2 251.6,150.9 253.9,151.2 256.1,151.2 258.3,151.2 260.6,151.4 262.7,151.2 264.9,151.3 267.0,151.3 269.1,151.2 271.2,151.7 273.2,151.3 275.1,151.2 277.0,151.1 278.9,151.0 280.7,151.5 282.4,151.2 284.1,150.8 285.7,150.9 287.2,151.1 288.6,151.0 290.0,151.1 292.6,151.4 294.9,150.8 297.1,151.3 299.2,151.2 301.1,150.8 303.0,151.2 304.8,151.1 306.6,151.3 308.4,151.0 310.2,151.2 312.2,151.1 314.2,150.5 316.2,150.6 318.3,151.1 320.3,151.1 322.3,150.7 324.3,150.4 326.3,150.8 328.3,149.7 330.4,150.0 332.4,150.3 334.4,150.0 336.4,150.1 338.4,149.5 340.5,149.1 342.5,150.0 344.5,149.5 346.5,149.1 348.6,149.3 350.6,149.4 352.6,148.3 354.7,149.3 356.7,148.9 358.8,149.1 361.0,148.2 363.2,149.0 365.5,148.2 367.7,149.1 369.9,148.9 372.1,149.4 374.2,148.5 376.2,148.7 378.2,148.9 380.0,148.5 382.3,148.2 384.5,148.0 386.6,147.9 388.6,147.7 390.4,147.1 392.0,147.1 394.6,146.2 397.0,145.0 399.3,144.5 401.7,143.8 404.1,143.1 406.2,142.9 408.2,141.6 410.0,141.1 413.0,140.2 415.4,139.8 418.0,139.0 420.6,139.6 423.2,141.0 425.0,142.4 426.7,144.1 428.2,146.1 429.3,147.9 430.3,149.9 431.3,152.0 432.2,154.1 433.2,156.3 434.2,158.6 435.2,160.9 436.2,163.1 437.2,165.1 438.3,167.1 439.3,169.1 440.3,171.2 441.1,173.2 441.9,175.3 442.7,177.5 443.5,179.6 444.3,181.7 445.1,183.6 445.9,185.6 446.7,187.4 447.5,189.4 448.3,191.3 449.2,193.5 450.2,195.7 451.1,198.0 452.1,200.1 453.0,202.0 454.1,203.9 455.2,205.6 456.3,207.3 457.6,209.4 458.8,211.6 460.2,213.4 463.4,215.4 465.2,215.2 466.1,213.7 467.0,211.5 468.0,209.4 469.1,207.1 470.2,204.5 470.8,202.9 471.5,201.1 472.2,199.1 472.9,197.1 473.6,195.1 474.3,193.0 475.0,191.0 475.7,189.1 476.4,187.0 477.2,184.8 477.9,182.6 478.6,180.5 479.4,178.5 480.1,176.7 480.9,175.2 482.7,172.3 484.3,171.0 485.1,171.8 485.7,173.7 486.3,176.2 486.8,178.7 487.1,180.4 487.5,182.2 487.7,184.1 488.0,186.2 488.3,188.3 488.5,190.5 488.8,192.8 489.1,195.1 489.3,197.3 489.6,199.6 489.8,201.5 490.0,203.4 490.3,205.4 490.5,207.5 490.7,209.5 490.9,211.6 491.1,213.7 491.3,215.8 491.5,217.8 491.8,219.8 492.0,221.8 492.3,223.8 492.6,225.6 493.0,227.4 493.5,229.6 494.0,231.7 494.5,233.8 495.1,235.8 495.7,237.8 496.3,239.7 497.0,241.5 497.6,243.2 498.3,244.8 499.3,246.8 500.3,248.5 501.4,250.1 502.5,251.8 503.5,253.5 504.6,255.5 505.6,257.5 506.7,259.5 507.7,261.6 508.7,263.9 509.4,265.7 510.1,267.6 510.8,269.6 511.5,271.7 512.2,273.7 512.8,275.8 513.4,277.7 513.9,279.6 514.5,282.0 515.1,284.0 515.6,287.3 516.1,287.4 516.6,291.0 517.4,293.7 518.3,295.7 519.1,298.0 519.8,299.5 520.5,301.3 521.3,303.7 522.3,305.9 523.3,308.2 524.3,310.9 526.1,313.2 527.1,314.1 528.4,317.9 530.7,316.3 533.2,315.5 535.6,316.5 537.9,319.1 539.5,320.2 541.1,321.2 542.7,322.7 545.1,321.0 547.4,319.1 551.0,319.1 552.2,321.2 553.3,322.7 554.4,324.7 555.7,326.2 557.5,326.4 559.5,324.0 561.6,321.5 563.9,321.5 566.3,321.3 568.7,320.3 571.0,320.3 573.4,320.9 575.8,321.5 578.1,322.7 580.5,321.7 582.9,322.4 585.3,322.7 587.7,323.1 590.0,323.1 592.4,322.6 594.8,322.7 597.2,323.1 599.7,321.7 602.1,322.0 604.3,321.5 606.9,323.1 609.3,324.0 611.4,325.0 612.8,327.9 614.0,328.9 615.0,331.0 615.7,329.0 616.2,327.5 616.8,325.7 617.5,324.1 618.5,321.5 620.6,320.3 623.1,322.2 625.6,322.7 628.0,322.3 630.5,322.7 632.7,323.9 635.2,325.8 637.5,327.4 639.1,326.6 640.5,323.8 642.2,321.5 644.1,321.1 646.3,318.4 648.1,319.1 649.5,321.9 650.5,325.1 651.7,326.2 653.4,325.4 655.2,323.9 657.8,323.0" fill="none" stroke="#ec00ec" stroke-width="2.5" stroke-linejoin="round" stroke-linecap="round"/>
<polyline points="92.6,350.2 93.8,353.0 95.3,352.0 97.2,349.2 99.0,347.2 100.7,345.6 102.3,344.7 103.6,342.3 104.8,339.8 106.0,337.2 107.2,334.9 108.3,333.9 109.4,330.9 110.5,329.1 111.6,327.4 112.7,324.8 113.8,322.5 114.6,320.8 115.5,319.1 116.3,316.8 117.1,315.2 118.0,313.5 118.9,311.2 119.7,308.6 120.4,306.9 121.0,304.8 121.5,302.6 121.9,300.4 122.3,298.0 122.6,296.2 122.8,294.3 123.1,292.3 123.3,290.3 123.5,288.2 123.8,286.1 124.0,284.0 124.2,282.0 124.4,279.9 124.6,277.8 124.9,275.7 125.1,273.6 125.3,271.4 125.5,269.2 125.7,267.0 125.9,265.0 126.1,262.9 126.3,260.8 126.5,258.7 126.7,256.5 126.9,254.3 127.1,252.2 127.3,250.1 127.5,248.0 127.7,246.0 127.9,243.8 128.1,241.6 128.3,239.5 128.4,237.4 128.6,235.4 128.8,233.3 128.9,231.2 129.1,229.1 129.3,227.0 129.4,224.8 129.6,222.7 129.8,220.5 130.0,218.4 130.1,216.2 130.3,214.1 130.5,212.0 130.7,210.0 130.8,208.0 131.0,206.0 131.1,204.1 131.3,202.1 131.4,200.1 131.7,198.1 131.9,196.0 132.2,193.9 132.5,191.8 132.9,189.6 133.3,187.4 133.7,185.3 134.1,183.1 134.5,180.9 134.8,178.7 135.2,176.6 135.6,174.4 135.9,172.1 136.3,169.9 136.6,167.7 137.0,165.5 137.3,163.3 137.6,161.1 138.0,159.0 138.4,156.8 138.7,154.5 139.1,152.3 139.4,150.2 139.8,148.0 140.2,145.9 140.7,143.8 141.3,141.5 142.0,139.2 142.7,137.0 143.4,134.8 144.2,132.7 145.0,130.7 146.0,128.3 147.1,126.0 148.2,123.8 149.4,121.9 150.7,120.2 152.2,118.5 153.8,117.0 155.7,116.4 157.8,116.3 160.0,115.5 162.2,115.1 164.5,115.3 166.8,115.3 169.0,114.9 171.2,114.4 173.2,114.8 175.7,114.3 177.2,113.8 178.8,113.8 180.5,114.3 182.4,113.8 184.3,114.1 186.4,113.7 188.5,114.2 190.7,113.8 193.0,114.3 195.3,113.7 197.6,114.3 200.0,114.2 201.7,114.1 203.4,114.2 205.2,114.2 207.1,114.2 208.9,113.8 210.9,113.4 212.9,114.2 214.9,113.9 216.9,114.0 219.0,114.3 221.1,113.6 223.2,113.9 225.3,114.0 227.4,113.8 229.5,114.3 231.7,114.1 233.8,113.9 235.9,113.8 238.0,114.4 240.1,113.9 242.1,114.3 244.1,114.3 246.1,113.5 248.1,113.8 250.0,114.1 252.1,114.1 254.2,114.2 256.4,114.3 258.5,114.3 260.6,114.3 262.7,113.9 264.8,113.9 266.9,114.2 269.0,113.8 271.0,114.2 273.0,113.4 275.1,114.1 277.0,113.8 279.0,113.3 280.9,114.1 282.8,113.9 284.7,113.8 286.5,113.5 288.3,113.7 290.0,113.8 292.3,114.3 294.4,113.6 296.5,112.9 298.6,113.7 300.5,113.7 302.5,114.0 304.4,114.0 306.3,113.8 308.3,113.9 310.2,114.4 312.2,114.0 314.2,113.4 316.2,114.3 318.3,113.4 320.3,113.0 322.3,113.3 324.3,113.0 326.3,112.3 328.3,112.5 330.4,111.5 332.4,111.5 334.4,111.6 336.4,111.7 338.5,111.1 340.5,110.6 342.5,110.9 344.5,110.8 346.6,110.4 348.6,109.6 350.6,109.8 352.6,109.9 354.7,109.8 356.7,109.3 358.7,109.6 360.8,108.8 363.0,108.5 365.1,108.4 367.2,108.5 369.3,107.7 371.4,108.1 373.4,106.6 375.3,107.5 377.2,106.8 378.9,106.7 381.4,106.4 383.6,106.1 385.8,105.1 387.9,104.9 390.0,104.4 392.3,103.9 394.5,103.4 396.8,102.4 399.0,101.6 401.1,101.1 403.0,99.6 404.9,99.9 406.7,98.0 408.4,96.8 410.0,95.6 411.9,93.5 413.6,92.5 415.2,90.2 416.7,88.8 418.4,87.2 420.0,85.0 423.3,83.0 426.0,81.4 428.5,81.1 431.0,82.0 433.5,82.8 436.0,85.5 437.3,87.4 438.5,89.5 439.9,91.6 441.4,94.0 442.2,95.6 443.0,97.3 443.7,99.2 444.5,101.2 445.3,103.3 446.1,105.3 446.8,107.3 447.6,109.3 448.3,111.4 449.0,113.5 449.7,115.5 450.3,117.6 450.9,119.5 451.5,121.7 452.0,123.9 452.5,126.0 453.0,128.1 453.5,130.0 454.3,132.4 455.1,134.6 456.0,137.0 456.7,138.7 457.4,140.5 458.3,142.5 459.1,144.5 460.0,146.6 460.9,148.7 461.7,150.9 462.4,152.8 463.1,154.8 463.8,156.8 464.5,158.9 465.2,161.0 465.9,163.2 466.6,165.3 467.3,167.5 468.0,169.6 468.7,171.7 469.3,173.6 470.0,175.5 470.6,177.5 471.2,179.4 471.9,181.3 472.5,183.2 473.1,185.2 473.8,187.1 474.4,188.9 475.0,190.8 475.7,192.6 476.5,194.6 477.2,196.6 478.0,198.5 478.8,200.4 479.6,202.3 480.4,204.2 481.2,206.1 481.9,208.1 482.6,210.0 483.3,211.9 483.9,213.8 484.5,215.7 485.1,217.6 485.7,219.5 486.3,221.5 486.8,223.4 487.3,225.4 487.8,227.4 488.2,229.4 488.7,231.4 489.0,233.5 489.4,235.6 489.8,237.7 490.1,239.8 490.4,242.0 490.7,244.1 491.0,246.2 491.3,248.3 491.6,250.4 491.8,252.5 492.1,254.7 492.3,256.8 492.6,259.0 492.8,261.1 493.0,263.2 493.2,265.2 493.5,267.2 493.7,269.1 494.0,271.3 494.2,273.5 494.5,275.6 494.7,277.7 495.0,279.6 495.4,281.4 495.8,283.0 496.8,286.1 498.3,288.3 500.9,290.0 503.5,290.0 506.0,292.0 507.6,293.8 509.5,295.4 511.7,296.8 514.2,296.6 516.4,295.9 518.8,296.6 520.9,297.0 523.7,297.8 526.0,297.8 528.8,297.6 531.3,298.7 533.5,298.2 535.6,297.8 537.7,298.5 540.0,299.4 542.4,300.3 545.0,295.8 547.4,297.8 549.8,296.2 552.1,296.1 553.8,296.0 555.5,297.5 557.3,299.5 559.3,300.1 561.5,300.8 564.0,300.6 566.6,300.1 569.0,300.7 571.1,300.1 573.5,299.8 575.8,299.0 577.9,297.8 580.3,299.8 582.8,299.7 585.3,301.3 587.6,300.5 590.0,301.5 592.3,301.3 594.8,301.3 597.1,301.5 599.5,300.9 602.0,301.7 604.4,301.4 606.7,302.5 609.2,303.4 611.6,304.4 613.9,306.0 616.1,304.9 618.5,305.7 620.9,303.5 623.3,303.7 625.6,303.2 628.0,302.9 630.4,303.9 632.7,303.7 635.1,305.2 637.5,304.1 639.8,303.7 642.2,302.7 644.6,304.5 647.0,306.1 649.1,305.0 651.3,306.0 653.5,305.2 655.2,304.9 657.8,305.0" fill="none" stroke="#760076" stroke-width="2.5" stroke-linejoin="round" stroke-linecap="round"/>
<polyline points="94.0,234.5 93.9,236.3 93.7,238.4 93.6,239.7 93.7,241.3 94.2,242.8 95.1,244.1 96.4,244.6 98.0,244.9 99.5,245.0 101.0,245.5 102.5,244.9 104.0,244.1 105.5,243.8 107.0,242.9 108.5,242.1 109.9,241.7 111.3,240.8 112.8,240.1 114.2,239.5 115.6,239.5 116.8,238.7 119.0,238.0 120.9,238.0 122.1,237.2 123.3,236.1 124.3,235.3 126.0,234.8 127.5,235.5 129.1,236.6 130.0,237.5 130.8,238.8 131.6,240.2 132.4,241.4 133.2,242.8 133.8,243.9 134.4,245.2 135.0,246.4 135.6,247.9 136.2,249.3 136.8,250.9 137.3,252.4 137.7,253.9 138.1,255.2 138.5,256.2 138.8,257.8 139.2,259.2 139.6,260.8 139.9,262.1 140.3,263.7 140.6,265.2 141.0,266.7 141.3,268.3 141.7,269.8 142.0,271.3 142.3,272.7 142.7,274.2 143.0,275.6 143.3,277.1 143.6,278.6 143.9,280.0 144.2,281.5 144.5,283.0 144.8,284.4 145.2,285.9 145.5,287.4 145.8,288.9 146.1,290.3 146.4,291.8 146.7,293.3 147.0,294.7 147.4,296.2 147.7,297.7 148.0,299.1 148.4,300.6 148.7,302.1 149.0,303.6 149.3,305.0 149.6,306.5 149.9,307.9 150.2,309.4 150.5,310.8 150.8,312.2 151.1,313.7 151.3,315.3 151.6,316.8 151.8,318.3 152.1,319.8 152.3,321.3 152.5,322.8 152.7,324.2 153.0,325.7 153.2,327.1 153.4,328.6 153.7,330.0 154.0,331.5 154.3,333.1 154.6,334.5 154.9,336.0 155.2,337.5 155.5,338.9 155.8,340.4 156.1,341.9 156.4,343.3 156.7,344.8 157.0,346.3 157.3,347.8 157.6,349.2 157.9,350.7 158.2,352.2 158.4,353.7 158.7,355.2 159.0,356.6 159.3,358.1 159.6,359.6 159.9,361.1 160.2,362.6 160.5,364.1 160.8,365.6 161.1,367.1 161.4,368.6 161.7,370.1 162.0,371.5 162.3,373.0 162.6,374.4 163.0,376.0 163.3,377.5 163.7,379.0 164.1,380.5 164.5,382.0 164.9,383.4 165.3,385.4 165.6,386.3 165.9,386.9 166.3,387.9" fill="none" stroke="#fbd00c" stroke-width="2.5" stroke-linejoin="round" stroke-linecap="round"/>
<polyline points="165.9,386.9 166.3,387.9 166.6,392.7 166.9,395.1 167.2,395.3 167.5,396.3 167.8,396.7 168.1,399.3 168.4,399.8 169.0,401.7 170.3,396.9 171.9,399.2 172.8,401.1 173.8,401.4 174.7,401.4 175.6,404.0 176.4,403.4 177.2,409.4 177.9,404.8 178.7,413.5 179.3,411.5 179.8,414.4 180.2,419.7 180.5,415.3 181.0,418.1 181.7,419.0 183.5,418.2 185.4,418.5 186.7,417.5 187.9,415.0 189.1,414.5 190.4,413.5 191.6,418.4 192.8,418.0 193.3,417.4 193.7,419.2 194.0,422.7 194.4,422.1 194.7,423.9 195.0,427.2 195.2,427.4 195.5,427.2 195.8,431.0 196.1,432.1 196.5,433.7 197.1,438.9 197.7,434.9 198.4,440.3 199.3,439.3 200.8,438.3 202.5,439.2 204.0,439.3 204.7,437.8 205.2,437.8 205.6,437.5 206.0,437.6 206.3,431.0 206.7,433.2 207.1,430.9 207.6,427.4 208.3,427.4 209.0,422.5 209.7,424.1 210.5,420.6 211.4,420.4 212.3,419.1 213.8,419.0 215.4,422.2 217.0,421.5 218.2,423.0 219.5,421.7 220.7,417.9 221.8,417.9 222.4,420.3 223.0,422.0 223.5,418.4 223.9,424.6 224.4,420.5 224.8,426.0 225.2,427.9 225.6,431.5 226.1,430.9 226.5,432.1 226.8,432.4 227.1,433.2 227.5,433.8 227.8,439.5 228.1,439.2 228.4,440.1 228.7,444.4 229.0,443.7 229.3,446.1 229.7,447.9 230.0,453.8 230.3,455.0 230.6,453.2 230.9,451.7 231.2,456.5 231.5,457.1 231.8,458.3 232.1,459.2 232.4,458.2 232.8,457.3 233.1,459.2 233.5,458.0 233.9,455.5 234.2,452.8 234.6,450.9 235.0,451.4 235.3,445.9 235.7,445.8 236.1,442.7 236.4,439.6 236.8,442.0 237.2,439.3 237.6,437.6 238.1,435.9 238.5,435.7 239.0,429.1 239.5,430.1 239.9,429.2 240.4,428.8 240.9,423.9 241.4,426.7 241.9,425.0 242.5,425.8 243.2,429.0 243.9,430.1 244.6,430.6 245.3,435.6 246.0,433.1 246.7,434.5 247.5,434.9 248.3,436.2 249.1,436.2 249.9,439.1 250.6,436.6 251.4,441.6 252.1,442.9 252.8,445.6 253.5,448.6 254.2,447.7 254.9,452.6 255.5,449.5 256.1,451.1 256.4,450.6 256.7,446.7 256.9,448.2 257.1,447.2 257.3,450.5 257.5,447.3 257.7,442.6 257.8,444.1 258.0,442.3 258.1,439.1 258.3,437.7 258.5,435.1 258.6,432.8 258.8,428.5 259.0,429.9 259.2,430.8 259.4,429.4 259.6,424.4 259.9,422.1 260.2,421.9 260.5,422.9 260.9,420.3 262.0,419.4 263.2,416.6 264.4,417.5 265.6,415.6 266.4,413.9 267.1,413.6 267.8,410.0 268.5,406.1 269.1,407.6 269.8,407.9 270.4,406.1 270.9,404.3 271.3,407.3 271.8,410.8 272.2,410.2 272.6,411.6 273.0,418.9 273.4,418.5 273.9,420.5 274.5,417.8 275.1,420.3 276.6,423.0 278.3,415.2 279.8,417.9 280.6,417.5 281.3,421.1 281.9,423.7 282.6,421.0 283.2,423.2 283.9,426.5 284.6,427.4 285.8,425.3 287.0,431.9 288.2,432.9 289.3,432.1 289.7,430.8 290.1,431.9 290.4,431.1 290.7,428.7 291.0,427.3 291.2,427.3 291.4,421.3 291.6,420.5 291.8,417.1 291.9,418.2 292.1,413.7 292.3,413.9 292.5,412.1 292.7,411.2 292.9,410.8 293.3,414.5 293.8,412.2 294.2,416.8 294.6,417.6 295.0,418.0 295.2,421.6 295.3,419.9 295.5,423.4 295.7,424.6 295.8,423.6 296.0,427.1 296.1,428.2 296.2,430.2 296.4,434.7 296.5,432.8 296.6,432.8 296.8,434.6 296.9,438.9 297.0,440.2 297.2,443.1 297.3,445.6 297.4,449.2 297.5,447.5 297.7,448.7 297.8,447.1 298.0,450.1 298.1,449.1 298.3,451.6 298.4,451.1 298.5,444.1 298.7,448.7 298.8,449.0 299.0,446.2 299.1,440.3 299.3,441.1 299.4,441.1 299.6,439.0 299.7,434.9 299.9,432.9 300.1,434.6 300.2,428.3 300.4,431.8 300.5,427.3 300.7,426.1 300.9,421.4 301.0,421.3 301.2,421.1 301.4,420.8 301.6,414.8 301.9,419.7 302.1,411.1 302.3,409.6 302.6,410.2 302.8,409.2 303.1,408.1 303.3,404.6 303.6,403.7 303.8,402.7 304.1,401.5 304.3,402.4 304.6,397.7 304.8,405.2 305.1,405.0 305.4,406.2 305.7,406.3 305.9,409.8 306.2,411.2 306.5,413.0 306.8,417.0 307.1,413.3 307.4,418.0 307.8,420.1 308.2,419.3 308.6,422.6 309.0,427.8 309.4,424.4 309.8,427.6 310.2,427.5 310.6,428.9 310.9,430.4 311.1,425.8 311.3,423.0 311.6,425.5 311.8,421.9 312.0,419.9 312.2,420.5 312.4,414.8 312.7,414.0 313.0,413.5 313.3,413.0 313.7,411.8 314.7,411.2 315.8,415.4 316.8,414.9 317.7,420.9 318.4,417.9 319.2,424.0 319.9,421.1 320.3,416.6 320.7,422.1 321.1,417.0 321.4,415.9 321.8,413.1 322.1,410.7 322.5,408.3 323.0,410.2 323.7,409.8 324.6,414.1 325.4,415.3 326.1,414.9 326.4,415.1 326.7,415.9 326.9,416.8 327.1,417.3 327.3,424.6 327.5,424.0 327.6,424.6 327.8,425.2 327.9,425.9 328.1,432.1 328.2,432.8 328.4,431.2 328.5,436.5 328.7,434.0 328.9,438.7 329.2,436.9 329.4,439.0 329.7,441.6 330.0,441.3 331.2,443.5 332.3,442.9 332.6,444.5 332.8,440.3 333.1,443.9 333.3,442.2 333.4,438.1 333.6,437.4 333.7,433.2 333.8,432.4 333.9,428.2 334.0,428.8 334.1,427.0 334.2,427.2 334.3,424.5 334.4,422.5 334.5,418.6 334.6,417.4 334.8,416.0 334.9,416.2 335.2,411.4 335.4,414.9 336.1,416.9 336.9,414.0 337.8,418.0 338.5,421.1 338.9,422.4 339.2,422.9 339.5,428.9 339.8,427.3 340.1,432.5 340.4,433.6 340.6,432.1 340.9,435.3 341.1,438.2 341.4,435.8 341.7,436.7 342.0,436.6 342.2,434.6 342.5,434.7 342.8,432.5 343.0,431.7 343.3,431.7 343.6,430.5 343.8,426.2 344.1,424.6 344.5,424.2 344.8,421.1 345.2,418.9 345.7,415.7 346.2,418.0 346.7,412.3 347.2,414.4 347.7,409.5 348.2,414.0 348.7,410.2 349.2,408.7 349.6,413.7 350.0,416.8 350.5,414.0 350.9,420.6 351.3,417.5 351.8,419.6 352.4,415.4 353.0,418.2 353.7,415.9 354.3,412.2 354.9,411.8 355.3,407.5 355.7,413.5 356.1,414.7 356.5,416.5 356.9,418.5 357.4,417.0 358.0,421.1 359.2,419.3 360.6,422.2 361.9,418.0 362.8,422.1 363.6,420.5 364.3,421.9 365.0,424.2 365.5,424.4 366.0,424.3 366.4,421.9 366.9,416.3 367.3,417.0 367.7,415.7 368.1,414.9 368.4,418.0 368.6,418.3 368.8,418.2 369.0,421.1 369.2,419.8 369.4,425.6 369.6,423.9 369.8,427.7 370.0,430.8 370.2,429.3 370.4,431.5 370.6,431.1 370.8,436.0 371.0,436.3 371.2,436.7 371.5,435.8 371.7,436.7 372.0,430.6 372.3,433.3 372.5,431.9 372.8,429.4 373.1,429.6 373.4,429.6 373.7,423.5 374.0,420.8 374.3,421.1 374.6,418.4 374.9,418.0 375.3,417.2 375.6,412.5 376.0,414.3 376.3,408.6 376.7,410.6 377.0,408.5 377.4,407.5 377.8,410.0 378.2,405.6 378.7,405.6 379.2,407.1 379.8,410.1 380.3,412.8 380.9,410.4 381.5,414.9 382.1,414.9 382.9,413.1 383.6,414.5 384.4,414.4 385.2,410.2 386.0,408.7 386.8,407.0 387.6,406.0 388.4,398.8 389.1,404.0 389.6,405.8 390.0,406.3 390.4,406.8 390.8,407.3 391.1,408.4 391.5,411.2 391.8,415.7 392.2,414.9 392.5,416.0 392.9,420.1 393.2,413.9 393.5,419.4 393.8,422.1 394.2,423.0 394.5,421.3 394.8,424.6 395.0,429.8 395.3,428.9 395.5,427.8 395.7,430.0 395.9,431.6 396.0,434.5 396.2,438.7 396.3,440.5 396.5,437.4 396.6,445.9 396.7,443.6 396.9,445.0 397.0,450.6 397.2,448.1 397.4,446.5 397.6,449.1 397.9,447.6 398.2,446.6 398.5,444.8 398.8,444.6 399.1,445.1 399.4,442.1 399.8,436.8 400.1,442.9 400.5,433.8 400.8,434.2 401.1,432.9 401.5,431.1 401.8,430.9 402.1,427.2 402.4,427.2 402.8,429.1 403.4,424.1 404.0,423.0 405.5,419.8 407.3,421.9 408.8,421.4 409.4,420.6 409.9,422.8 410.3,425.6 410.6,427.9 410.9,428.7 411.1,432.8 411.4,432.4 411.7,431.3 412.0,434.2 412.2,435.7 412.5,432.7 412.7,434.8 412.9,430.0 413.1,430.9 413.3,428.7 413.5,421.0 413.8,421.3 414.0,420.0 414.2,422.7 414.4,414.2 414.6,417.5 414.9,415.9 415.1,412.8 415.4,411.5 415.6,407.7 415.9,407.4 416.2,406.8 416.5,406.6 416.8,405.5 417.6,407.2 418.4,406.6 419.2,407.3 420.0,410.3 420.5,410.4 420.9,413.8 421.4,411.6 421.9,414.3 422.3,417.9 422.7,419.6 423.2,421.9 423.6,418.8 424.0,424.5 424.3,425.5 424.7,426.2 425.0,427.5 425.2,421.7 425.4,424.2 425.6,424.6 425.8,423.4 426.0,423.3 426.2,421.5 426.4,415.8 426.6,417.2 426.7,413.5 426.9,410.7 427.0,413.4 427.2,407.4 427.4,405.2 427.5,404.4 427.7,402.0 427.9,402.3 428.1,402.5 428.4,399.5 428.6,399.5 428.8,395.7 429.0,391.9 429.3,393.3 429.5,388.4 429.7,387.4 430.0,386.9 430.2,386.6 430.5,386.3 431.0,389.6 431.5,388.3 432.1,392.4 432.7,392.7 433.0,392.4 433.3,389.2 433.6,388.3 433.9,388.5 434.2,387.9 434.6,385.8 434.9,384.1 435.2,381.2 435.6,378.3 435.9,378.2 436.3,373.9 436.7,372.0 437.1,373.2 437.5,373.5 438.1,371.2 438.8,374.3 439.5,375.7 440.2,378.1 440.9,381.0 441.6,380.9 442.3,383.1 443.4,381.5 444.5,377.4 445.5,379.9 446.0,380.6 446.3,379.7 446.6,383.6 446.8,379.1 447.1,384.9 447.4,388.8 447.7,385.4 448.1,390.9 448.7,392.7 449.8,394.1 451.0,395.2 452.3,392.8 453.5,395.9 454.6,395.7 455.6,394.4 456.7,392.7 457.7,389.5 458.7,391.1 459.7,387.9 460.7,386.7 461.5,386.3 462.0,385.8 462.4,388.6 462.8,388.9 463.2,392.5 463.5,392.9 463.8,392.7 464.1,395.3 464.4,399.3 464.7,399.1 465.0,399.9 465.3,403.0 465.6,405.2 465.9,405.7 466.2,403.5 466.4,410.1 466.7,411.9 467.0,413.2 467.3,412.5 467.6,417.1 467.9,415.0 468.2,414.5 468.6,412.7 468.9,411.3 469.2,411.9 469.6,407.3 469.9,405.6 470.3,409.6 470.7,406.4 471.1,402.3 471.5,402.9 471.9,402.1 472.3,399.1 472.7,393.2 473.1,397.2 473.6,395.8 474.0,392.8 474.5,386.6 474.9,391.4 475.4,390.2 475.9,386.3 476.6,383.9 477.2,383.7 478.0,383.7 478.7,380.8 479.4,381.8 480.1,378.4 480.7,376.7 481.1,376.8 481.4,374.2 481.7,369.7 482.0,368.9 482.3,375.2 482.6,367.8 482.8,368.1 483.1,366.0 483.4,365.4 483.7,361.6 484.0,358.0 484.3,358.0 484.7,353.3 485.1,355.9 485.5,355.9 487.1,357.9 488.7,357.5 489.2,354.2 489.7,359.9 490.1,362.4 490.4,364.9 490.7,362.1 491.0,364.3 491.3,363.6 491.6,366.8 491.9,370.3 492.2,372.8 492.5,377.4 492.8,372.8 493.1,379.4 493.4,379.1 493.8,378.8 494.1,385.4 494.6,377.3 495.1,383.1 496.6,384.1 498.2,384.7 500.0,384.3 500.4,384.1 500.8,386.8 501.1,384.9 501.4,384.3 501.7,378.5 502.0,378.4 502.2,377.4 502.5,374.1 502.9,372.1 503.3,370.0 503.8,368.2 504.2,366.3 504.7,363.2 505.2,367.9 505.8,361.8 506.4,357.3 507.0,360.6 507.6,359.0 508.3,358.2 509.8,357.2 511.4,359.5 513.0,355.8 514.0,356.3 515.0,357.5 515.9,358.3 516.8,361.1 517.8,361.8 519.0,360.4 520.2,360.3 521.4,364.7 522.5,358.2 523.2,359.6 523.7,358.6 524.2,365.9 524.7,365.8 525.1,367.5 525.6,368.6 526.1,367.7 526.5,369.0 527.0,367.8 527.4,367.9 527.8,365.5 528.2,364.3 528.6,358.8 529.1,357.9 529.6,354.7 530.2,356.5 530.8,353.5 531.9,353.8 533.0,350.3 534.3,351.5 535.6,349.9 536.9,354.8 538.4,352.2 539.9,347.9 541.4,350.4 542.7,351.1 544.0,353.4 545.1,353.6 546.2,355.8 547.4,355.8 548.9,357.8 550.5,355.3 552.1,353.5 553.3,350.3 554.5,352.5 555.7,349.6 556.9,348.7 558.4,348.0 559.9,346.0 561.6,346.4 562.9,343.2 564.3,342.9 565.8,344.2 567.2,342.3 568.7,344.0 570.1,338.4 571.6,345.8 573.1,341.1 574.5,341.7 575.8,342.8 577.5,342.9 579.0,336.1 580.6,340.4 581.7,343.5 582.9,340.5 584.1,344.7 585.3,343.8 586.5,346.5 587.7,346.4 589.1,346.3 590.5,345.2 591.9,340.6 593.3,340.3 594.8,342.8 596.1,343.0 597.5,346.6 599.0,343.8 600.5,347.0 601.9,347.2 603.2,348.4 604.3,347.6 605.4,348.8 606.3,342.5 607.1,344.4 608.0,342.1 609.0,341.6 610.3,340.9 611.7,340.3 613.1,341.1 614.6,341.4 616.1,344.0 617.5,342.4 619.0,350.0 620.4,348.9 621.8,346.1 623.3,346.4 624.7,348.0 626.1,344.8 627.5,341.3 628.9,343.1 630.4,346.4 631.7,346.3 633.0,348.3 634.4,344.8 635.8,342.2 637.2,343.1 638.5,341.1 639.8,342.8 641.3,340.1 642.7,342.5 644.1,342.6 645.5,342.1 647.0,344.0 648.7,342.6 650.5,342.8 652.2,345.3 653.8,347.8 655.2,345.2 657.8,345.0" fill="none" stroke="#fbd00c" stroke-width="2.9" stroke-linejoin="round" stroke-linecap="round"/>
<line x1="381" y1="177.6" x2="238" y2="299.7" stroke="#ff8000" stroke-width="2.5" stroke-dasharray="10.5 11.44"/>
<path d="M229.1,307.2 L239.3,292.0 L240.9,296.9 L246.0,299.6 Z" fill="#ff8000" stroke="#ff8000" stroke-width="0.8" stroke-linejoin="round"/>
<rect x="92.6" y="17.5" width="565.20" height="455.30" fill="none" stroke="#000" stroke-width="2.4"/>
<line x1="92.6" y1="472.80" x2="102.1" y2="472.80" stroke="#000" stroke-width="2"/>
<line x1="92.6" y1="449.96" x2="97.6" y2="449.96" stroke="#000" stroke-width="2"/>
<line x1="92.6" y1="436.59" x2="97.6" y2="436.59" stroke="#000" stroke-width="2"/>
<line x1="92.6" y1="427.11" x2="97.6" y2="427.11" stroke="#000" stroke-width="2"/>
<line x1="92.6" y1="419.76" x2="97.6" y2="419.76" stroke="#000" stroke-width="2"/>
<line x1="92.6" y1="413.75" x2="97.6" y2="413.75" stroke="#000" stroke-width="2"/>
<line x1="92.6" y1="408.67" x2="97.6" y2="408.67" stroke="#000" stroke-width="2"/>
<line x1="92.6" y1="404.27" x2="97.6" y2="404.27" stroke="#000" stroke-width="2"/>
<line x1="92.6" y1="400.39" x2="97.6" y2="400.39" stroke="#000" stroke-width="2"/>
<line x1="92.6" y1="396.92" x2="102.1" y2="396.92" stroke="#000" stroke-width="2"/>
<line x1="92.6" y1="374.07" x2="97.6" y2="374.07" stroke="#000" stroke-width="2"/>
<line x1="92.6" y1="360.71" x2="97.6" y2="360.71" stroke="#000" stroke-width="2"/>
<line x1="92.6" y1="351.23" x2="97.6" y2="351.23" stroke="#000" stroke-width="2"/>
<line x1="92.6" y1="343.88" x2="97.6" y2="343.88" stroke="#000" stroke-width="2"/>
<line x1="92.6" y1="337.87" x2="97.6" y2="337.87" stroke="#000" stroke-width="2"/>
<line x1="92.6" y1="332.79" x2="97.6" y2="332.79" stroke="#000" stroke-width="2"/>
<line x1="92.6" y1="328.39" x2="97.6" y2="328.39" stroke="#000" stroke-width="2"/>
<line x1="92.6" y1="324.51" x2="97.6" y2="324.51" stroke="#000" stroke-width="2"/>
<line x1="92.6" y1="321.03" x2="102.1" y2="321.03" stroke="#000" stroke-width="2"/>
<line x1="92.6" y1="298.19" x2="97.6" y2="298.19" stroke="#000" stroke-width="2"/>
<line x1="92.6" y1="284.83" x2="97.6" y2="284.83" stroke="#000" stroke-width="2"/>
<line x1="92.6" y1="275.35" x2="97.6" y2="275.35" stroke="#000" stroke-width="2"/>
<line x1="92.6" y1="267.99" x2="97.6" y2="267.99" stroke="#000" stroke-width="2"/>
<line x1="92.6" y1="261.98" x2="97.6" y2="261.98" stroke="#000" stroke-width="2"/>
<line x1="92.6" y1="256.90" x2="97.6" y2="256.90" stroke="#000" stroke-width="2"/>
<line x1="92.6" y1="252.50" x2="97.6" y2="252.50" stroke="#000" stroke-width="2"/>
<line x1="92.6" y1="248.62" x2="97.6" y2="248.62" stroke="#000" stroke-width="2"/>
<line x1="92.6" y1="245.15" x2="102.1" y2="245.15" stroke="#000" stroke-width="2"/>
<line x1="92.6" y1="222.31" x2="97.6" y2="222.31" stroke="#000" stroke-width="2"/>
<line x1="92.6" y1="208.94" x2="97.6" y2="208.94" stroke="#000" stroke-width="2"/>
<line x1="92.6" y1="199.46" x2="97.6" y2="199.46" stroke="#000" stroke-width="2"/>
<line x1="92.6" y1="192.11" x2="97.6" y2="192.11" stroke="#000" stroke-width="2"/>
<line x1="92.6" y1="186.10" x2="97.6" y2="186.10" stroke="#000" stroke-width="2"/>
<line x1="92.6" y1="181.02" x2="97.6" y2="181.02" stroke="#000" stroke-width="2"/>
<line x1="92.6" y1="176.62" x2="97.6" y2="176.62" stroke="#000" stroke-width="2"/>
<line x1="92.6" y1="172.74" x2="97.6" y2="172.74" stroke="#000" stroke-width="2"/>
<line x1="92.6" y1="169.27" x2="102.1" y2="169.27" stroke="#000" stroke-width="2"/>
<line x1="92.6" y1="146.42" x2="97.6" y2="146.42" stroke="#000" stroke-width="2"/>
<line x1="92.6" y1="133.06" x2="97.6" y2="133.06" stroke="#000" stroke-width="2"/>
<line x1="92.6" y1="123.58" x2="97.6" y2="123.58" stroke="#000" stroke-width="2"/>
<line x1="92.6" y1="116.23" x2="97.6" y2="116.23" stroke="#000" stroke-width="2"/>
<line x1="92.6" y1="110.22" x2="97.6" y2="110.22" stroke="#000" stroke-width="2"/>
<line x1="92.6" y1="105.14" x2="97.6" y2="105.14" stroke="#000" stroke-width="2"/>
<line x1="92.6" y1="100.74" x2="97.6" y2="100.74" stroke="#000" stroke-width="2"/>
<line x1="92.6" y1="96.86" x2="97.6" y2="96.86" stroke="#000" stroke-width="2"/>
<line x1="92.6" y1="93.38" x2="102.1" y2="93.38" stroke="#000" stroke-width="2"/>
<line x1="92.6" y1="70.54" x2="97.6" y2="70.54" stroke="#000" stroke-width="2"/>
<line x1="92.6" y1="57.18" x2="97.6" y2="57.18" stroke="#000" stroke-width="2"/>
<line x1="92.6" y1="47.70" x2="97.6" y2="47.70" stroke="#000" stroke-width="2"/>
<line x1="92.6" y1="40.34" x2="97.6" y2="40.34" stroke="#000" stroke-width="2"/>
<line x1="92.6" y1="34.33" x2="97.6" y2="34.33" stroke="#000" stroke-width="2"/>
<line x1="92.6" y1="29.25" x2="97.6" y2="29.25" stroke="#000" stroke-width="2"/>
<line x1="92.6" y1="24.85" x2="97.6" y2="24.85" stroke="#000" stroke-width="2"/>
<line x1="92.6" y1="20.97" x2="97.6" y2="20.97" stroke="#000" stroke-width="2"/>
<line x1="186.80" y1="472.8" x2="186.80" y2="467.8" stroke="#000" stroke-width="2.1"/>
<line x1="281.00" y1="472.8" x2="281.00" y2="463.3" stroke="#000" stroke-width="2.1"/>
<line x1="375.20" y1="472.8" x2="375.20" y2="467.8" stroke="#000" stroke-width="2.1"/>
<line x1="469.40" y1="472.8" x2="469.40" y2="463.3" stroke="#000" stroke-width="2.1"/>
<line x1="563.60" y1="472.8" x2="563.60" y2="467.8" stroke="#000" stroke-width="2.1"/>
<line x1="138.9" y1="18.5" x2="138.9" y2="471.8" stroke="#000" stroke-width="1.6" stroke-dasharray="7 2.5 1.6 2.7"/>
<line x1="430.2" y1="18.5" x2="430.2" y2="471.8" stroke="#000" stroke-width="1.6" stroke-dasharray="7 2.5 1.6 2.7"/>
<line x1="485.3" y1="18.5" x2="485.3" y2="471.8" stroke="#000" stroke-width="1.6" stroke-dasharray="7 2.5 1.6 2.7"/>
<text transform="translate(100.16,41.82) scale(1,0.963)" font-size="28.78" fill="#000">Au</text>
<text transform="translate(228.74,42.22) scale(1,1.003)" font-size="28.24" fill="#000">BFO</text>
<text transform="translate(437.45,42.92) scale(1,1.013)" font-size="28.07" fill="#000">Pt</text>
<text transform="translate(522.72,42.59) scale(1,0.990)" font-size="28.41" fill="#000">Sapphire</text>
<text transform="translate(220.76,105.80) scale(1,0.847)" font-size="31.76" fill="#760076">Bi</text>
<text transform="translate(220.30,177.84) scale(1,0.881)" font-size="30.00" fill="#ec00ec">Fe</text>
<text transform="translate(499.15,94.40) scale(1,1.015)" font-size="29.08" fill="#1677b3">Al</text>
<text transform="translate(350.77,269.20) scale(1,0.910)" font-size="31.69" fill="#ff8000">Ti</text>
<text transform="translate(367.75,365.20) scale(1,1.027)" font-size="29.36" fill="#808080">Pt</text>
<text transform="translate(153.85,299.80) scale(1,1.004)" font-size="29.74" fill="#fbd00c">Au</text>
<g transform="translate(38.21,27.80) scale(0.3136,0.3000)" fill="#000"><path transform="translate(0.0,0)" d="M37.3,0 L28.5,0 L28.5,-54.5 Q21,-49.5 10.8,-44.2 L10.8,-52.5 Q25,-58.5 31.5,-70 L37.3,-70 Z"/><text x="55.6" y="0" font-size="100">0</text></g>
<g transform="translate(72.95,13.13) scale(0.1621,0.1686)" fill="#000"><text x="0.0" y="0" font-size="100">5</text></g>
<g transform="translate(38.25,179.90) scale(0.3105,0.3000)" fill="#000"><path transform="translate(0.0,0)" d="M37.3,0 L28.5,0 L28.5,-54.5 Q21,-49.5 10.8,-44.2 L10.8,-52.5 Q25,-58.5 31.5,-70 L37.3,-70 Z"/><text x="55.6" y="0" font-size="100">0</text></g>
<g transform="translate(72.94,165.23) scale(0.1638,0.1662)" fill="#000"><text x="0.0" y="0" font-size="100">3</text></g>
<g transform="translate(38.27,331.70) scale(0.3084,0.3000)" fill="#000"><path transform="translate(0.0,0)" d="M37.3,0 L28.5,0 L28.5,-54.5 Q21,-49.5 10.8,-44.2 L10.8,-52.5 Q25,-58.5 31.5,-70 L37.3,-70 Z"/><text x="55.6" y="0" font-size="100">0</text></g>
<g transform="translate(74.37,317.20) scale(0.1321,0.1700)" fill="#000"><path transform="translate(0.0,0)" d="M37.3,0 L28.5,0 L28.5,-54.5 Q21,-49.5 10.8,-44.2 L10.8,-52.5 Q25,-58.5 31.5,-70 L37.3,-70 Z"/></g>
<g transform="translate(32.35,483.41) scale(0.3011,0.2915)" fill="#000"><path transform="translate(0.0,0)" d="M37.3,0 L28.5,0 L28.5,-54.5 Q21,-49.5 10.8,-44.2 L10.8,-52.5 Q25,-58.5 31.5,-70 L37.3,-70 Z"/><text x="55.6" y="0" font-size="100">0</text></g>
<g transform="translate(66.18,469.00) scale(0.1831,0.1529)" fill="#000"><text x="0.0" y="0" font-size="100">-</text><path transform="translate(33.3,0)" d="M37.3,0 L28.5,0 L28.5,-54.5 Q21,-49.5 10.8,-44.2 L10.8,-52.5 Q25,-58.5 31.5,-70 L37.3,-70 Z"/></g>
<g transform="translate(84.05,505.79) scale(0.2863,0.3056)" fill="#000"><text x="0.0" y="0" font-size="100">0</text></g>
<g transform="translate(263.83,505.90) scale(0.3032,0.3014)" fill="#000"><path transform="translate(0.0,0)" d="M37.3,0 L28.5,0 L28.5,-54.5 Q21,-49.5 10.8,-44.2 L10.8,-52.5 Q25,-58.5 31.5,-70 L37.3,-70 Z"/><text x="55.6" y="0" font-size="100">0</text></g>
<g transform="translate(453.04,505.90) scale(0.2919,0.3014)" fill="#000"><text x="0.0" y="0" font-size="100">2</text><text x="55.6" y="0" font-size="100">0</text></g>
<g transform="translate(641.74,505.90) scale(0.2890,0.3014)" fill="#000"><text x="0.0" y="0" font-size="100">3</text><text x="55.6" y="0" font-size="100">0</text></g>
<text transform="translate(229.73,538.46) scale(1,0.976)" font-size="30.47" fill="#000">Sputtering Time (min)</text>
<text transform="translate(252.5,270.4) rotate(-39.6)" fill="#ff8000" stroke="#ff8000" stroke-width="0.35" font-size="26.4">Ti diffusion</text>
<text transform="translate(22.8,234.7) rotate(-90)" font-size="30.2" text-anchor="middle">Intensity (a.u.)</text>
</svg>
</body></html>
